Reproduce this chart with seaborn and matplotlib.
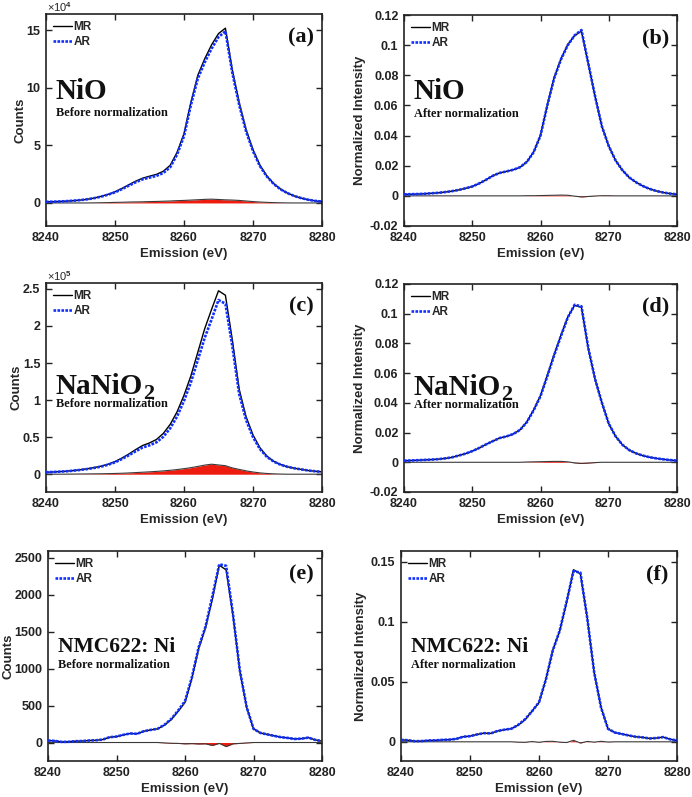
import numpy as np
import matplotlib
matplotlib.use('Agg')
import matplotlib.pyplot as plt
import seaborn as sns
from matplotlib.ticker import FuncFormatter, FixedLocator

# Emission energies (eV), 1 eV grid
energy = list(range(8240, 8281))

# (a) NiO counts, in units of 1e4 -- AR curve and MR-AR difference
ar_nio = [0.10, 0.11, 0.13, 0.16, 0.20, 0.25, 0.32, 0.42, 0.55, 0.72,
          0.92, 1.20, 1.50, 1.80, 2.05, 2.20, 2.35, 2.60, 3.10, 4.20,
          5.80, 8.50, 10.80, 12.20, 13.40, 14.40, 14.90, 11.30, 8.50, 6.20,
          4.50, 3.20, 2.30, 1.65, 1.18, 0.85, 0.60, 0.42, 0.28, 0.18, 0.12]
diff_nio = [0, 0, 0, 0, 0, 0, 0, 0.01, 0.02, 0.03,
            0.05, 0.06, 0.08, 0.09, 0.10, 0.12, 0.13, 0.15, 0.17, 0.20,
            0.22, 0.25, 0.28, 0.31, 0.33, 0.30, 0.27, 0.25, 0.22, 0.17,
            0.12, 0.08, 0.05, 0.03, 0.015, 0.005, 0, 0, 0, 0, 0]

# (b) NiO normalized
ar_nio_n = [0.0010, 0.0011, 0.0012, 0.0014, 0.0017, 0.0020, 0.0025, 0.0031, 0.0039, 0.0050,
            0.0062, 0.0082, 0.0106, 0.0133, 0.0152, 0.0162, 0.0173, 0.0190, 0.0225, 0.0290,
            0.0400, 0.0600, 0.0780, 0.0905, 0.1000, 0.1065, 0.1100, 0.0880, 0.0660, 0.0460,
            0.0330, 0.0235, 0.0170, 0.0122, 0.0090, 0.0065, 0.0046, 0.0032, 0.0022, 0.0015, 0.0010]
diff_nio_n = [0, 0, 0, 0, 0, 0, 0, 0, 0, 0,
              0, 0, 0, 0, 0, 0, 0, 0, 0.0001, 0.0001,
              0.0002, 0.0003, 0.0004, 0.0005, 0.0004, -0.0002, -0.0007, -0.0004, -0.0001, 0.0001,
              0.0001, 0, 0, 0, 0, 0, 0, 0, 0, 0, 0]

# (c) NaNiO2 counts, in units of 1e5
ar_nanio2 = [0.027, 0.030, 0.035, 0.040, 0.048, 0.058, 0.070, 0.085, 0.103, 0.128,
             0.160, 0.205, 0.255, 0.310, 0.360, 0.390, 0.430, 0.505, 0.620, 0.780,
             0.990, 1.240, 1.540, 1.840, 2.090, 2.350, 2.300, 1.730, 1.080, 0.730,
             0.500, 0.340, 0.235, 0.170, 0.128, 0.100, 0.080, 0.065, 0.050, 0.040, 0.032]
diff_nanio2 = [0, 0, 0, 0.001, 0.002, 0.003, 0.004, 0.005, 0.006, 0.008,
               0.010, 0.013, 0.017, 0.022, 0.027, 0.032, 0.038, 0.045, 0.053, 0.063,
               0.075, 0.088, 0.105, 0.123, 0.135, 0.125, 0.115, 0.085, 0.065, 0.045,
               0.030, 0.018, 0.010, 0.005, 0.002, 0, 0, 0, 0, 0, 0]

# (d) NaNiO2 normalized
ar_nanio2_n = [0.0011, 0.0012, 0.0014, 0.0016, 0.0018, 0.0021, 0.0026, 0.0033, 0.0045, 0.0058,
               0.0075, 0.0096, 0.0120, 0.0142, 0.0163, 0.0174, 0.0190, 0.0218, 0.0270, 0.0350,
               0.0445, 0.0580, 0.0720, 0.0850, 0.0975, 0.1060, 0.1050, 0.0770, 0.0560, 0.0400,
               0.0260, 0.0175, 0.0118, 0.0082, 0.0060, 0.0045, 0.0034, 0.0026, 0.0020, 0.0015, 0.0011]
diff_nanio2_n = [0, 0, 0, 0, 0, 0, 0, 0, 0, 0,
                 0, 0, 0, 0, 0, 0, 0, 0, 0.0002, 0.0003,
                 0.0004, 0.0005, 0.0006, 0.0006, 0.0003, -0.0004, -0.0008, -0.0005, -0.0002, 0,
                 0, 0, 0, 0, 0, 0, 0, 0, 0, 0, 0]

# (e) NMC622 Ni counts
ar_nmc = [27, 22, 8, 10, 18, 20, 27, 30, 40, 72,
          80, 104, 122, 118, 153, 171, 185, 240, 320, 433,
          560, 880, 1290, 1570, 1980, 2410, 2390, 1740, 980, 480,
          185, 130, 110, 90, 72, 62, 48, 52, 66, 36, 18]
diff_nmc = [0, 0, 0, 0, 0, 0, 0, 0, 0, 0,
            0, 0, 0, 0, 0, 0, 0, -5, -10, -12,
            -18, -15, -20, -18, -40, -12, -55, -18, -12, -5,
            0, 0, 0, 0, 0, 0, 0, 0, 0, 0, 0]

# (f) NMC622 Ni normalized
ar_nmc_n = [0.0016, 0.0013, 0.0005, 0.0006, 0.0011, 0.0012, 0.0016, 0.0018, 0.0024, 0.0042,
            0.0047, 0.0061, 0.0072, 0.0070, 0.0090, 0.0101, 0.0109, 0.0142, 0.0189, 0.0255,
            0.0330, 0.0519, 0.0761, 0.0926, 0.1168, 0.1422, 0.1410, 0.1027, 0.0578, 0.0283,
            0.0109, 0.0077, 0.0065, 0.0053, 0.0042, 0.0037, 0.0028, 0.0031, 0.0039, 0.0021, 0.0011]
diff_nmc_n = [0, 0, 0, 0, 0, 0, 0, 0, 0, 0,
              0, 0, 0, 0, 0, 0, 0, -0.0003, -0.0004, 0.0002,
              -0.0004, 0.0003, 0.0004, -0.0003, -0.0006, 0.0012, -0.0010, 0.0003, -0.0003, 0.0004,
              -0.0002, 0, 0, 0, 0, 0, 0, 0, 0, 0, 0]

sns.set_style('ticks')
plt.rcParams['font.family'] = ['Liberation Sans', 'DejaVu Sans']
plt.rcParams['font.weight'] = 'bold'
plt.rcParams['axes.labelweight'] = 'bold'
plt.rcParams['mathtext.fontset'] = 'custom'
plt.rcParams['mathtext.rm'] = 'Liberation Sans'

W, H = 692, 797
fig = plt.figure(figsize=(W / 100, H / 100), dpi=100)


def rect(l, r, t, b):
    return [l / W, 1 - b / H, (r - l) / W, (b - t) / H]


panels = [
    dict(box=rect(46, 322, 14, 226), ar=ar_nio, diff=diff_nio, scale=1e4, exp='4',
         ylim=(-2e4, 16.4e4), yticks=[0, 5e4, 10e4, 15e4], ylabel='Counts', lpad=0,
         name='NiO', sub=None, note='Before normalization', letter='(a)', ty=(0.60, 0.52), nsize=21),
    dict(box=rect(404, 677, 15, 226), ar=ar_nio_n, diff=diff_nio_n, scale=1, exp=None,
         ylim=(-0.02, 0.12), yticks=[-0.02, 0, 0.02, 0.04, 0.06, 0.08, 0.1, 0.12],
         ylabel='Normalized Intensity', lpad=3,
         name='NiO', sub=None, note='After normalization', letter='(b)', ty=(0.60, 0.518), nsize=21),
    dict(box=rect(46, 322, 283, 492), ar=ar_nanio2, diff=diff_nanio2, scale=1e5, exp='5',
         ylim=(-0.24e5, 2.58e5), yticks=[0, 0.5e5, 1e5, 1.5e5, 2e5, 2.5e5], ylabel='Counts', lpad=0,
         name='NaNiO', sub='2', note='Before normalization', letter='(c)', ty=(0.468, 0.405), nsize=21),
    dict(box=rect(404, 677, 284, 492), ar=ar_nanio2_n, diff=diff_nanio2_n, scale=1, exp=None,
         ylim=(-0.02, 0.12), yticks=[-0.02, 0, 0.02, 0.04, 0.06, 0.08, 0.1, 0.12],
         ylabel='Normalized Intensity', lpad=3,
         name='NaNiO', sub='2', note='After normalization', letter='(d)', ty=(0.464, 0.402), nsize=21),
    dict(box=rect(48, 322, 551, 761), ar=ar_nmc, diff=diff_nmc, scale=1, exp=None,
         ylim=(-250, 2590), yticks=[0, 500, 1000, 1500, 2000, 2500], ylabel='Counts', lpad=0,
         name='NMC622: Ni', sub=None, note='Before normalization', letter='(e)', ty=(0.52, 0.443), nsize=15.5),
    dict(box=rect(401, 677, 551, 761), ar=ar_nmc_n, diff=diff_nmc_n, scale=1, exp=None,
         ylim=(-0.016, 0.159), yticks=[0, 0.05, 0.1, 0.15], ylabel='Normalized Intensity', lpad=3,
         name='NMC622: Ni', sub=None, note='After normalization', letter='(f)', ty=(0.52, 0.443), nsize=15.5),
]

serif = dict(fontweight='bold', family='Liberation Serif', color='#111111')

for p in panels:
    ax = fig.add_axes(p['box'])
    ar = np.array(p['ar']) * p['scale']
    diff = np.array(p['diff']) * p['scale']
    mr = ar + diff

    ax.fill_between(energy, 0, diff, color='#ee1c0e', lw=0, zorder=1)
    sns.lineplot(x=energy, y=diff, ax=ax, color='#3a3a3a', lw=0.8, zorder=2)
    sns.lineplot(x=energy, y=mr, ax=ax, color='black', lw=1.0, label='MR', zorder=3)
    sns.lineplot(x=energy, y=ar, ax=ax, color='#1030ff', lw=1.9, linestyle=(0, (1, 0.5)),
                 label='AR', zorder=4)

    ax.set_xlim(8240, 8280)
    ax.set_ylim(*p['ylim'])
    ax.xaxis.set_major_locator(FixedLocator([8240, 8250, 8260, 8270, 8280]))
    ax.yaxis.set_major_locator(FixedLocator(p['yticks']))
    sc = p['scale'] if p['exp'] else 1
    ax.yaxis.set_major_formatter(FuncFormatter(lambda v, pos, s=sc: f'{v / s:g}'))

    for sp in ax.spines.values():
        sp.set_linewidth(1.2)
        sp.set_color('#222222')
    ax.tick_params(direction='in', top=True, right=True, length=4, width=1,
                   labelsize=9, pad=4, colors='#222222')
    for lab in ax.get_xticklabels() + ax.get_yticklabels():
        lab.set_fontweight('bold')

    ax.set_xlabel('Emission (eV)', fontsize=9.5, labelpad=3)
    ax.set_ylabel(p['ylabel'], fontsize=9.5, labelpad=p['lpad'])

    if p['exp']:
        top_px = H - (p['box'][1] + p['box'][3]) * H
        fig.text(p['box'][0] + 1 / W, 1 - (top_px - 14) / H, '\u00d710$^{' + p['exp'] + '}$',
                 ha='left', va='top', fontsize=8, fontweight='normal')

    ax.legend(loc='upper left', frameon=False, borderaxespad=0.5,
              borderpad=0.1, handlelength=1.6, handletextpad=0.15, labelspacing=0.25,
              prop={'weight': 'bold', 'size': 8.5})

    t = ax.text(0.035, p['ty'][0], p['name'], transform=ax.transAxes, ha='left', va='baseline',
                fontsize=p['nsize'], **serif)
    if p['sub']:
        ax.annotate(p['sub'], xy=(1, 0), xycoords=t, xytext=(0.5, 0.8),
                    textcoords='offset points', ha='left', va='baseline', fontsize=16, **serif)
    ax.text(0.035, p['ty'][1], p['note'], transform=ax.transAxes, ha='left', va='baseline',
            fontsize=8.8, **serif)
    ax.text(0.97, 0.89, p['letter'], transform=ax.transAxes, ha='right', va='center',
            fontsize=16, **serif)

fig.savefig('out.png', dpi=100)
